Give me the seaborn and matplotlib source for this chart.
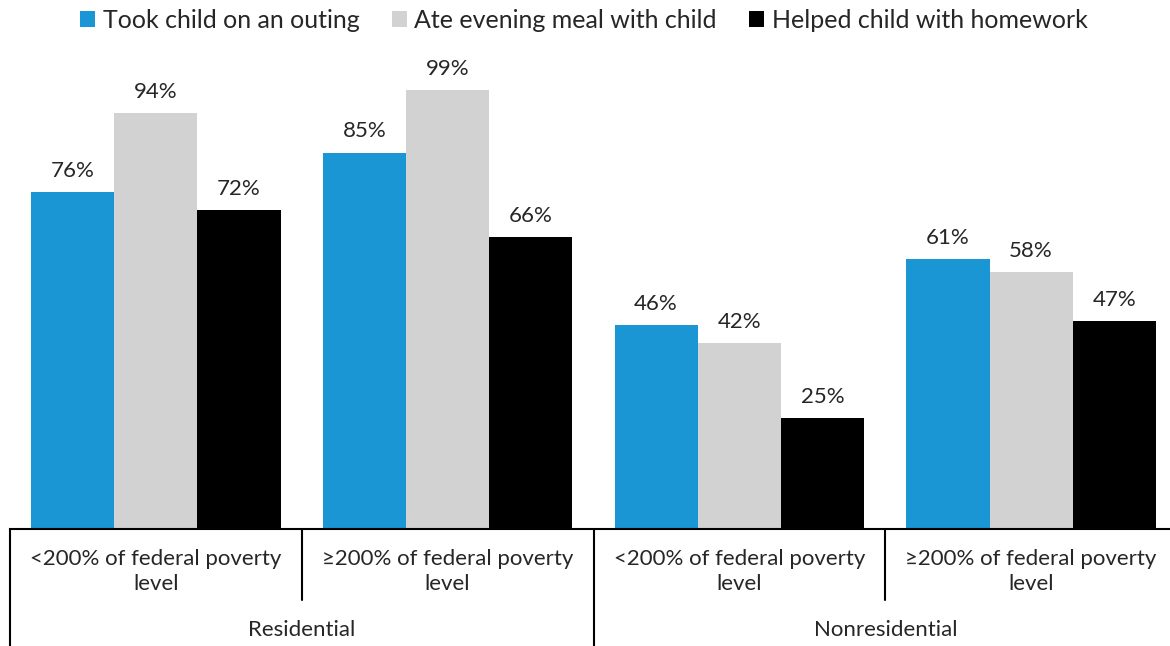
import numpy as np
import pandas as pd
import matplotlib.pyplot as plt
import matplotlib.transforms as mtransforms
import seaborn as sns

# Data
groups = ['Residential', 'Residential', 'Nonresidential', 'Nonresidential']
income = ['<200% of federal poverty\nlevel', '≥200% of federal poverty\nlevel',
          '<200% of federal poverty\nlevel', '≥200% of federal poverty\nlevel']
series = ['Took child on an outing', 'Ate evening meal with child', 'Helped child with homework']
outing = [76, 85, 46, 61]
meal = [94, 99, 42, 58]
homework = [72, 66, 25, 47]
colors = ['#1A96D4', '#D2D2D2', '#000000']

keys = [f'{g} {i}' for g, i in zip(groups, income)]
df = pd.DataFrame({
    'key': keys * 3,
    'activity': np.repeat(series, 4),
    'pct': outing + meal + homework,
})

sns.set_style('white')
plt.rcParams['font.family'] = ['Lato', 'DejaVu Sans']

fig = plt.figure(figsize=(11.7, 6.46), dpi=100)
ax = fig.add_axes([10 / 1170, 117 / 646, 1167 / 1170, 489 / 646])

sns.barplot(data=df, x='key', y='pct', hue='activity', order=keys, hue_order=series,
            palette=colors, width=0.856, saturation=1, linewidth=0, ax=ax, legend=True)

for c in ax.containers:
    ax.bar_label(c, fmt='%d%%', padding=8, fontsize=16)

ax.set_xlim(-0.5, 3.5)
ax.set_ylim(0, 110.4)
ax.set_xlabel('')
ax.set_ylabel('')
ax.set_xticks([])
ax.set_yticks([])
for s in ['top', 'right', 'left']:
    ax.spines[s].set_visible(False)
ax.spines['bottom'].set_color('black')
ax.spines['bottom'].set_linewidth(1.5)

# two-level category axis
trans = mtransforms.blended_transform_factory(ax.transData, ax.transAxes)
for i, lab in enumerate(income):
    ax.text(i, -0.087, lab, transform=trans, ha='center', va='center',
            fontsize=16, linespacing=1.3)
for x0 in [-0.5, 1.5]:
    ax.plot([x0, x0], [0, -0.24], transform=trans, color='black', lw=1.5, clip_on=False)
for x0 in [0.5, 2.5]:
    ax.plot([x0, x0], [0, -0.145], transform=trans, color='black', lw=1.5, clip_on=False)
for x0, g in [(0.5, 'Residential'), (2.5, 'Nonresidential')]:
    ax.text(x0, -0.207, g, transform=trans, ha='center', va='center', fontsize=16)

handles, labels = ax.get_legend_handles_labels()
ax.get_legend().remove()
fig.legend(handles, labels, loc='center', bbox_to_anchor=(0.499, 0.968), ncol=3,
           frameon=False, fontsize=18, handlelength=0.6, handleheight=0.6,
           handletextpad=0.3, columnspacing=1.3)

fig.savefig('out.png', dpi=100)
